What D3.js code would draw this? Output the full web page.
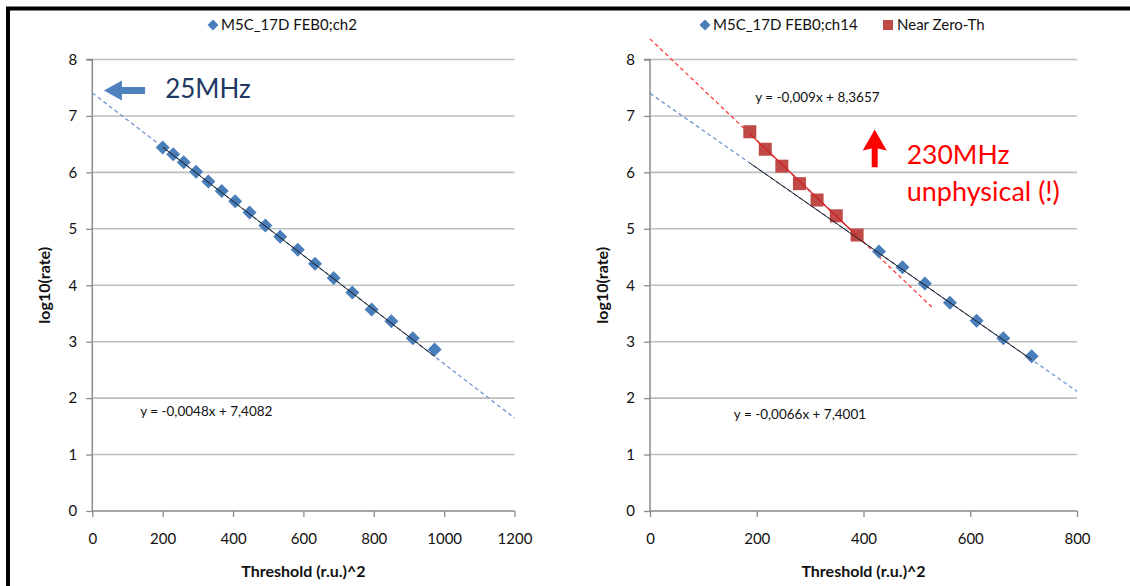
<!DOCTYPE html>
<html>
<head>
<meta charset="utf-8">
<script src="https://cdn.jsdelivr.net/npm/d3@7/dist/d3.min.js"></script>
<style>
  html, body { margin: 0; padding: 0; background: #fff; }
  svg { display: block; font-family: Lato, "Open Sans", sans-serif; }
</style>
</head>
<body>
<svg id="chart" width="1130" height="586"></svg>
<script>
// ---------- DATA ----------
const ch2Threshold = [200, 230, 260, 295, 330, 368, 406, 447, 492, 534, 584, 633, 686, 739, 794, 850, 911, 973];
const ch2LogRate   = [6.44, 6.32, 6.18, 6.01, 5.84, 5.67, 5.49, 5.29, 5.06, 4.86, 4.63, 4.38, 4.13, 3.87, 3.57, 3.36, 3.06, 2.86];

const ch14Threshold = [429, 473, 515, 562, 612, 662, 715];
const ch14LogRate   = [4.60, 4.32, 4.03, 3.69, 3.37, 3.06, 2.74];

const nearZeroThreshold = [187, 216, 247, 280, 313, 349, 388];
const nearZeroLogRate   = [6.72, 6.41, 6.11, 5.80, 5.51, 5.23, 4.89];

// trendlines: [slope, intercept]
const ch2Fit      = [-0.0048, 7.4082];
const ch14Fit     = [-0.0066, 7.4001];
const nearZeroFit = [-0.009, 8.3657];

const leftXTicks  = [0, 200, 400, 600, 800, 1000, 1200];
const rightXTicks = [0, 200, 400, 600, 800];
const yTicks      = [0, 1, 2, 3, 4, 5, 6, 7, 8];

const legendLeft  = ["M5C_17D FEB0;ch2"];
const legendRight = ["M5C_17D FEB0;ch14", "Near Zero-Th"];

const xTitle = "Threshold (r.u.)^2";
const yTitle = "log10(rate)";

// ---------- STYLE ----------
const BLUE = "#4a7ebb";
const BLUE_DASH = "#6f95cf";
const RED_SQ = "#be4b48";
const RED_DASH = "#ff3b3b";
const GRID = "#bdbdbd";
const AXIS = "#8a8a8a";

const svg = d3.select("#chart");

// frame (top and left black border)
svg.append("rect").attr("x", 8).attr("y", 8.5).attr("width", 1130).attr("height", 600)
  .attr("fill", "none").attr("stroke", "#000").attr("stroke-width", 4);

const fmtEq = (fit) => {
  const s = fit[0].toString().replace(".", ",");
  const b = fit[1].toString().replace(".", ",");
  return "y = " + s + "x + " + b;
};

function diamond(g, x, y, r, fill) {
  g.append("path")
    .attr("d", `M${x},${y - r}L${x + r},${y}L${x},${y + r}L${x - r},${y}Z`)
    .attr("fill", fill);
}

function drawPanel(opt) {
  const x = d3.scaleLinear().domain(opt.xDomain).range(opt.xRange);
  const y = d3.scaleLinear().domain([0, 8]).range([511, 59.5]);
  const g = svg.append("g");

  // grid lines
  g.append("g").selectAll("line").data(yTicks.filter(d => d > 0)).join("line")
    .attr("x1", opt.xRange[0]).attr("x2", opt.xRange[1])
    .attr("y1", d => y(d)).attr("y2", d => y(d))
    .attr("stroke", GRID).attr("stroke-width", 1.6);

  // y axis
  const yAxis = d3.axisLeft(y).tickValues(yTicks).tickSize(6).tickPadding(9).tickFormat(d3.format("d"));
  const ya = g.append("g").attr("transform", `translate(${opt.xRange[0]},0)`).call(yAxis);
  // x axis
  const xAxis = d3.axisBottom(x).tickValues(opt.xTicks).tickSize(6).tickPadding(16).tickFormat(d3.format("d"));
  const xa = g.append("g").attr("transform", `translate(0,${y(0)})`).call(xAxis);
  [ya, xa].forEach(a => {
    a.select(".domain").attr("stroke", AXIS).attr("stroke-width", 1.5);
    a.selectAll(".tick line").attr("stroke", AXIS).attr("stroke-width", 1.3);
    a.selectAll(".tick text").attr("font-family", "Lato, sans-serif").attr("font-size", 15).attr("fill", "#111");
  });
  ya.select(".domain").attr("d", `M-6,${y(8)}H0V${y(0)}`);
  xa.select(".domain").attr("d", `M${opt.xRange[0]},0H${opt.xRange[1]}`);

  // axis titles
  g.append("text").attr("x", (opt.xRange[0] + opt.xRange[1]) / 2).attr("y", 577)
    .attr("text-anchor", "middle").attr("font-size", 16).attr("font-weight", "bold").attr("fill", "#111")
    .text(xTitle);
  g.append("text").attr("transform", `translate(${opt.xRange[0] - 42},${(y(0) + y(8)) / 2}) rotate(-90)`)
    .attr("text-anchor", "middle").attr("font-size", 16).attr("font-weight", "bold").attr("fill", "#111")
    .text(yTitle);

  return { g, x, y };
}

function fitLine(g, x, y, fit, x0, x1, color, dash, width) {
  const line = d3.line().x(d => x(d)).y(d => y(fit[0] * d + fit[1]));
  g.append("path").attr("d", line([x0, x1])).attr("fill", "none")
    .attr("stroke", color).attr("stroke-width", width)
    .attr("stroke-dasharray", dash || null);
}

// ---------- LEFT PANEL ----------
{
  const { g, x, y } = drawPanel({ xDomain: [0, 1200], xRange: [92.3, 514.5], xTicks: leftXTicks });
  fitLine(g, x, y, ch2Fit, 0, 1200, BLUE_DASH, "4,3", 1.3);
  const pts = ch2Threshold.map((t, i) => [t, ch2LogRate[i]]);
  pts.forEach(p => diamond(g, x(p[0]), y(p[1]), 7, BLUE));
  fitLine(g, x, y, ch2Fit, d3.min(ch2Threshold), d3.max(ch2Threshold), "#1a1a1a", null, 1);

  g.append("text").attr("x", x(136)).attr("y", y(1.78) + 5).attr("font-size", 13.5).attr("fill", "#111")
    .text(fmtEq(ch2Fit));

  // 25MHz annotation
  const ay = y(7.45), ax0 = x(33), ax1 = x(150);
  g.append("path")
    .attr("d", `M${ax0},${ay}L${ax0 + 18},${ay - 10}L${ax0 + 18},${ay - 3.5}L${ax1},${ay - 3.5}L${ax1},${ay + 3.5}L${ax0 + 18},${ay + 3.5}L${ax0 + 18},${ay + 10}Z`)
    .attr("fill", "#4f81bd");
  g.append("text").attr("x", x(207)).attr("y", y(7.48) + 9).attr("font-size", 26).attr("fill", "#1f3864")
    .text("25MHz");

  // legend
  const lg = g.append("g");
  diamond(lg, 213, 25, 5.5, BLUE);
  lg.append("text").attr("x", 221).attr("y", 30).attr("font-size", 15).attr("fill", "#111").text(legendLeft[0]);
}

// ---------- RIGHT PANEL ----------
{
  const { g, x, y } = drawPanel({ xDomain: [0, 800], xRange: [650, 1077], xTicks: rightXTicks });
  fitLine(g, x, y, ch14Fit, 0, 800, BLUE_DASH, "4,3", 1.3);
  fitLine(g, x, y, nearZeroFit, 0, 530, RED_DASH, "4,3", 1.3);

  ch14Threshold.forEach((t, i) => diamond(g, x(t), y(ch14LogRate[i]), 7, BLUE));
  nearZeroThreshold.forEach((t, i) => {
    g.append("rect").attr("x", x(t) - 6.5).attr("y", y(nearZeroLogRate[i]) - 6.5)
      .attr("width", 13).attr("height", 13).attr("fill", RED_SQ);
  });
  fitLine(g, x, y, nearZeroFit, d3.min(nearZeroThreshold), d3.max(nearZeroThreshold), "#d42020", null, 1.2);
  fitLine(g, x, y, ch14Fit, d3.min(nearZeroThreshold), d3.max(ch14Threshold), "#1a1a1a", null, 1);

  g.append("text").attr("x", x(197)).attr("y", y(7.34) + 5).attr("font-size", 13.5).attr("fill", "#111")
    .text(fmtEq(nearZeroFit));
  g.append("text").attr("x", x(157)).attr("y", y(1.72) + 5).attr("font-size", 13.5).attr("fill", "#111")
    .text(fmtEq(ch14Fit));

  // red arrow annotation
  const rx = x(421), top = y(6.76), bot = y(6.09);
  g.append("path")
    .attr("d", `M${rx},${top}L${rx + 12},${top + 21}L${rx + 3},${top + 19}L${rx + 3},${bot}L${rx - 3},${bot}L${rx - 3},${top + 19}L${rx - 12},${top + 21}Z`)
    .attr("fill", "#ff0000");
  g.append("text").attr("x", x(481)).attr("y", y(6.14)).attr("font-size", 26.5).attr("fill", "#ff0000").text("230MHz");
  g.append("text").attr("x", x(481)).attr("y", y(5.5)).attr("font-size", 27).attr("fill", "#ff0000").text("unphysical (!)");

  // legend
  const lg = g.append("g");
  diamond(lg, 705, 25, 5.5, BLUE);
  lg.append("text").attr("x", 713).attr("y", 30).attr("font-size", 15).attr("fill", "#111").text(legendRight[0]);
  lg.append("rect").attr("x", 883).attr("y", 20).attr("width", 10).attr("height", 10).attr("fill", RED_SQ);
  lg.append("text").attr("x", 897).attr("y", 30).attr("font-size", 15).attr("fill", "#111").text(legendRight[1]);
}
</script>
</body>
</html>
